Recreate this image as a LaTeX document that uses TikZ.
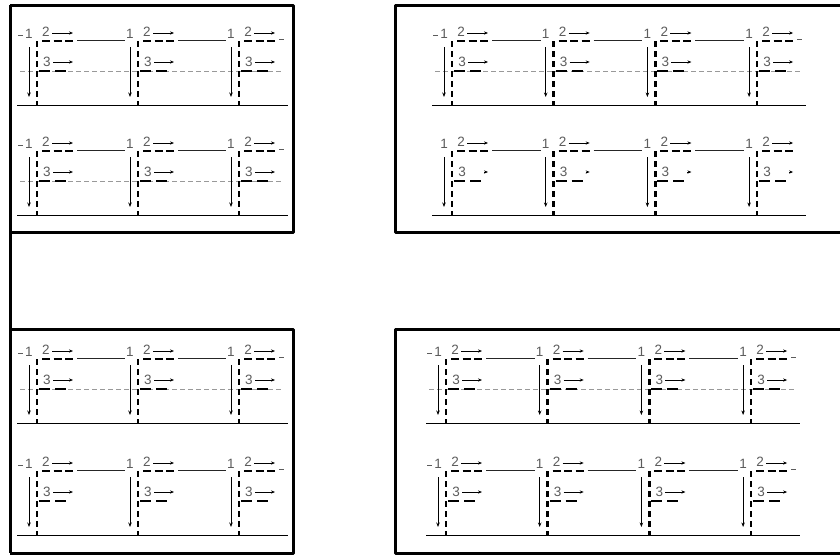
\documentclass[tikz,border=0pt]{standalone}
\usepackage{fontspec}
\setmainfont{Liberation Sans}
\usetikzlibrary{arrows.meta}
\definecolor{lblgray}{gray}{0.36}
\definecolor{dashgray}{gray}{0.6}
\tikzset{
  frame/.style={line width=3pt, line join=round},
  lbl/.style={text=lblgray, font=\fontsize{13.5}{13.5}\selectfont, inner sep=0pt},
  thinl/.style={line width=1pt, black!85},
  endl/.style={line width=1pt, lblgray},
  darr/.style={line width=1pt, -{Stealth[length=4.5pt,width=3.5pt]}},
  sarr/.style={line width=1pt, -{Stealth[length=4pt,width=3.2pt]}},
  vdash/.style={line width=2.6pt, dash pattern=on 6pt off 4pt},
  hdash/.style={line width=2.3pt, dash pattern=on 8pt off 3.5pt},
  hdashb/.style={line width=2.8pt, dash pattern=on 11pt off 5pt},
  gdash/.style={line width=1pt, dashgray, dash pattern=on 5pt off 3pt},
  ground/.style={line width=1.4pt},
}
\begin{document}
\begin{tikzpicture}[x=1pt,y=-1pt]
\useasboundingbox (0,0) rectangle (840,555);
\clip (0,0) rectangle (840,555);
\fill[white] (0,0) rectangle (840,555);
% frames
\draw[frame] (10,5) -- (10,553);
\draw[frame] (10,5) -- (293,5) -- (293,232) -- (10,232);
\draw[frame] (10,329) -- (293,329) -- (293,553) -- (10,553);
\draw[frame] (860,5) -- (395,5) -- (395,232) -- (860,232);
\draw[frame] (860,329) -- (395,329) -- (395,553) -- (860,553);
% rows
\foreach \r/\axz/\dx/\n/\ly/\gl/\ends/\tipo in {
  a/29/101/3/41/1/1/0, b/29/101/3/151/1/1/0,
  c/444/101.7/4/41/1/1/0, d/444/101.7/4/151/0/0/1,
  e/29/101/3/359/1/1/0, f/29/101/3/471/0/1/0,
  g/438/101.7/4/359/1/1/0, h/438/101.7/4/471/0/1/0}
{
  \pgfmathsetmacro\axl{\axz+(\n-1)*\dx}
  \draw[ground] (\axz-12,\ly+64.5) -- (\axl+57,\ly+64.5);
  \ifnum\gl=1 \draw[gdash] (\axz-9,\ly+30) -- (\axl+52,\ly+30); \fi
  \ifnum\ends=1
    \draw[endl] (\axz-11,\ly-6) -- (\axz-6,\ly-6);
    \draw[endl] (\axl+48,\ly-2) -- (\axl+53,\ly-2);
  \fi
  \foreach \i in {1,...,\n} {
    \pgfmathsetmacro\ax{\axz+(\i-1)*\dx}
    \node[lbl] (one\r\i) at (\ax,\ly-7) {1};
    \draw[darr] (\ax,\ly+6) -- (\ax,\ly+56);
    \draw[vdash] (\ax+8,\ly) -- (\ax+8,\ly+65);
    \node[lbl] (two\r\i) at (\ax+17,\ly-9) {2};
    \draw[sarr] (\ax+23,\ly-8) -- (\ax+44,\ly-8);
    \draw[hdash] (\ax+13,\ly) -- (\ax+44,\ly);
    \node[lbl] (three\r\i) at (\ax+18,\ly+21) {3};
    \ifnum\tipo=1
      \draw[sarr] (\ax+40,\ly+21) -- (\ax+44,\ly+21);
    \else
      \draw[sarr] (\ax+24,\ly+21) -- (\ax+44,\ly+21);
    \fi
    \draw[hdashb] (\ax+10,\ly+30) -- (\ax+39,\ly+30);
    \ifnum\i<\n
      \draw[thinl] (\ax+48,\ly-1) -- (\ax+\dx-5,\ly-1);
    \fi
  }
}
\end{tikzpicture}
\end{document}
